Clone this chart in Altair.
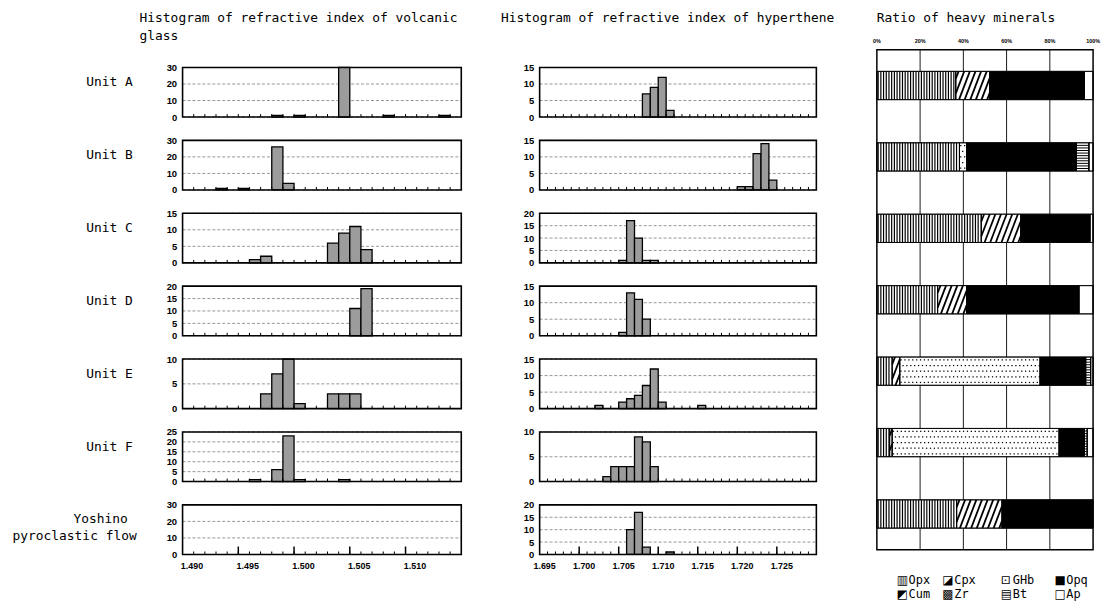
import altair as alt
import numpy as np
import pandas as pd

TXT = "DejaVu Sans Mono"
NUM = "Liberation Sans"

# ---------------- data ----------------
unit_names = ["Unit A", "Unit B", "Unit C", "Unit D", "Unit E", "Unit F", "Yoshino pyroclastic flow"]

# refractive index of volcanic glass (bin start value, count)
glass_ri_A = [1.498, 1.500, 1.504, 1.508, 1.513]
glass_n_A = [1, 1, 30, 1, 1]
glass_ri_B = [1.493, 1.495, 1.498, 1.499]
glass_n_B = [1, 1, 26, 4]
glass_ri_C = [1.496, 1.497, 1.503, 1.504, 1.505, 1.506]
glass_n_C = [1, 2, 6, 9, 11, 4]
glass_ri_D = [1.505, 1.506]
glass_n_D = [11, 19]
glass_ri_E = [1.497, 1.498, 1.499, 1.500, 1.503, 1.504, 1.505]
glass_n_E = [3, 7, 10, 1, 3, 3, 3]
glass_ri_F = [1.496, 1.498, 1.499, 1.500, 1.504]
glass_n_F = [1, 6, 23, 1, 1]
glass_ri_Y = []
glass_n_Y = []
glass_ymax = [30, 30, 15, 20, 10, 25, 30]
glass_ystep = [10, 10, 5, 5, 5, 5, 10]
glass_axis_labels = [1.490, 1.495, 1.500, 1.505, 1.510]

# refractive index of hypersthene
hyp_ri_A = [1.708, 1.709, 1.710, 1.711]
hyp_n_A = [7, 9, 12, 2]
hyp_ri_B = [1.720, 1.721, 1.722, 1.723, 1.724]
hyp_n_B = [1, 1, 11, 14, 3]
hyp_ri_C = [1.705, 1.706, 1.707, 1.708, 1.709]
hyp_n_C = [1, 17, 10, 1, 1]
hyp_ri_D = [1.705, 1.706, 1.707, 1.708]
hyp_n_D = [1, 13, 11, 5]
hyp_ri_E = [1.702, 1.705, 1.706, 1.707, 1.708, 1.709, 1.710, 1.715]
hyp_n_E = [1, 2, 3, 4, 7, 12, 2, 1]
hyp_ri_F = [1.703, 1.704, 1.705, 1.706, 1.707, 1.708, 1.709]
hyp_n_F = [1, 3, 3, 3, 9, 8, 3]
hyp_ri_Y = [1.706, 1.707, 1.708, 1.711]
hyp_n_Y = [10, 17, 3, 1]
hyp_ymax = [15, 15, 20, 15, 15, 10, 20]
hyp_ystep = [5, 5, 5, 5, 5, 5, 5]
hyp_axis_labels = [1.695, 1.700, 1.705, 1.710, 1.715, 1.720, 1.725]

# heavy minerals (% per unit, A..F, Yoshino)
mineral_names = ["Opx", "Cpx", "GHb", "Opq", "Cum", "Zr", "Bt", "Ap"]
pct_opx = [36.5, 38.2, 48.3, 28.1, 7.1, 5.9, 36.9]
pct_cpx = [15.7, 0.0, 18.3, 13.4, 3.5, 1.2, 21.0]
pct_ghb = [0.0, 3.3, 0.0, 0.0, 64.9, 77.2, 0.0]
pct_opq = [43.8, 50.8, 32.0, 52.0, 21.1, 11.7, 41.7]
pct_cum = [0.0, 0.0, 0.0, 0.0, 0.0, 0.0, 0.0]
pct_zr = [0.0, 0.0, 0.0, 0.0, 0.0, 0.0, 0.0]
pct_bt = [0.0, 5.8, 0.0, 0.0, 2.3, 1.3, 0.0]
pct_ap = [4.0, 1.9, 1.4, 6.5, 1.1, 2.7, 0.4]
pct_ticks = [0, 20, 40, 60, 80, 100]

glass_ri = [glass_ri_A, glass_ri_B, glass_ri_C, glass_ri_D, glass_ri_E, glass_ri_F, glass_ri_Y]
glass_n = [glass_n_A, glass_n_B, glass_n_C, glass_n_D, glass_n_E, glass_n_F, glass_n_Y]
hyp_ri = [hyp_ri_A, hyp_ri_B, hyp_ri_C, hyp_ri_D, hyp_ri_E, hyp_ri_F, hyp_ri_Y]
hyp_n = [hyp_n_A, hyp_n_B, hyp_n_C, hyp_n_D, hyp_n_E, hyp_n_F, hyp_n_Y]
pct_by_mineral = [pct_opx, pct_cpx, pct_ghb, pct_opq, pct_cum, pct_zr, pct_bt, pct_ap]

# ---------------- layout constants ----------------
PANEL_H = 50
GLASS_W = 281
HYP_W = 279
MIN_W = 218
TITLE_H = 33.5


def hist_panel(ri, n, ymax, ystep, lo, nbins, width, label_lines, bottom, major_vals, lab_off):
    hi = round(lo + nbins * 0.001, 3)
    xs = alt.Scale(domain=[lo, hi], nice=False, zero=False)
    ys = alt.Scale(domain=[0, ymax], nice=False, zero=True)
    yvals = list(range(0, ymax + 1, ystep))
    yaxis = alt.Axis(values=yvals, title=None, ticks=False, domain=False, grid=False,
                     labelPadding=6, labelFont=NUM, labelFontSize=9.5, labelFontWeight="bold",
                     labelColor="black", labelOverlap=False)
    if bottom:
        xaxis = alt.Axis(values=major_vals, format=".3f", title=None, ticks=False, domain=False,
                         grid=False, labelPadding=7, labelOffset=lab_off, labelFlush=False,
                         labelOverlap=False, labelFont=NUM, labelFontSize=9, labelFontWeight="bold",
                         labelColor="black")
    else:
        xaxis = None
    grid = alt.Chart(pd.DataFrame({"t": yvals})).mark_rule(
        color="#7a7a7a", strokeWidth=0.8, strokeDash=[3, 2]
    ).encode(y=alt.Y("t:Q", scale=ys, axis=yaxis), x=alt.value(0), x2=alt.value(width))
    layers = [grid]
    if len(ri):
        bdf = pd.DataFrame({"x0": ri, "n": n})
        bdf["x1"] = bdf["x0"] + 0.001
        bdf["z"] = 0
        bars = alt.Chart(bdf).mark_rect(fill="#9c9c9c", stroke="black", strokeWidth=1.3).encode(
            x=alt.X("x0:Q", scale=xs, axis=xaxis), x2=alt.X2("x1"),
            y=alt.Y("n:Q", scale=ys, axis=yaxis), y2=alt.Y2("z"))
        layers.append(bars)
    minor_df = pd.DataFrame({"b": [round(lo + 0.001 * k, 3) for k in range(1, nbins)]})
    minor = alt.Chart(minor_df).mark_rule(color="black", strokeWidth=1).encode(
        x=alt.X("b:Q", scale=xs, axis=xaxis), y=alt.value(PANEL_H), y2=alt.value(PANEL_H - 3))
    layers.append(minor)
    if bottom:
        major = alt.Chart(pd.DataFrame({"m": major_vals[1:]})).mark_rule(
            color="black", strokeWidth=1.5
        ).encode(x=alt.X("m:Q", scale=xs, axis=xaxis), y=alt.value(PANEL_H), y2=alt.value(PANEL_H - 8))
        layers.append(major)
    frame = alt.Chart(pd.DataFrame({"a": [lo], "b": [hi], "c": [0], "d": [ymax]})).mark_rect(
        fillOpacity=0, stroke="black", strokeWidth=1.6).encode(
        x=alt.X("a:Q", scale=xs, axis=xaxis), x2=alt.X2("b"),
        y=alt.Y("c:Q", scale=ys, axis=yaxis), y2=alt.Y2("d"))
    layers.append(frame)
    for txt, xr, yr in label_lines:
        layers.append(
            alt.Chart(pd.DataFrame({"s": [txt]})).mark_text(
                align="right", baseline="middle", font=TXT, fontSize=13, color="black"
            ).encode(text="s:N", x=alt.value(xr), y=alt.value(yr))
        )
    return alt.layer(*layers).properties(width=width, height=PANEL_H)


def title_chart(lines, xoff, width):
    df = pd.DataFrame({"s": ["\n".join(lines)]})
    return alt.Chart(df).mark_text(
        align="left", baseline="alphabetic", font=TXT, fontSize=13, color="black",
        lineBreak="\n", lineHeight=18.3
    ).encode(text="s:N", x=alt.value(xoff), y=alt.value(11.5)).properties(
        width=width, height=TITLE_H)


def blank():
    return alt.Chart(pd.DataFrame({"s": ["x"]})).mark_point(opacity=0).encode(
        x=alt.value(0), y=alt.value(0)).properties(width=1, height=1)


# ---------------- histogram panels ----------------
glass_panels, hyp_panels = [], []
for i in range(7):
    if i < 6:
        lines = [(unit_names[i], -50.3, 15)]
    else:
        lines = [("Yoshino", -55.3, 14), ("pyroclastic flow", -46.3, 31)]
    bottom = i == 6
    glass_panels.append(hist_panel(glass_ri[i], glass_n[i], glass_ymax[i], glass_ystep[i],
                                   1.490, 25, GLASS_W, lines, bottom, glass_axis_labels, 9))
    hyp_panels.append(hist_panel(hyp_ri[i], hyp_n[i], hyp_ymax[i], hyp_ystep[i],
                                 1.695, 35, HYP_W, [], bottom, hyp_axis_labels, 4.5))

glass_title = title_chart(["Histogram of refractive index of volcanic", "glass"], -43.3, 298.4)
hyp_title = title_chart(["Histogram of refractive index of hyperthene"], -39, HYP_W)

# ---------------- heavy minerals chart ----------------
BAR_LO, BAR_HI = 0.302, 0.698
mineral_fill = {"Opx": "white", "Cpx": "white", "GHb": "white", "Opq": "black",
                "Cum": "black", "Zr": "#bdbdbd", "Bt": "white", "Ap": "white"}
seg = []
for u in range(7):
    s = 0.0
    for m, arr in zip(mineral_names, pct_by_mineral):
        v = arr[u]
        if v > 0:
            seg.append({"u": u, "m": m, "s": s, "e": s + v, "y0": u + BAR_LO, "y1": u + BAR_HI})
        s += v
seg_df = pd.DataFrame(seg)

opx_rows, cpx_rows, ghb_rows, bt_rows = [], [], [], []
for r in seg:
    s, e, y0, y1 = r["s"], r["e"], r["y0"], r["y1"]
    if r["m"] == "Opx":
        x = s + 0.6
        while x < e - 0.3:
            opx_rows.append({"x": x, "y0": y0, "y1": y1})
            x += 1.25
    elif r["m"] == "Cpx":
        DX, SP = 5.0, 2.6
        x0 = s - DX + SP / 2
        while x0 < e:
            t0 = max(0.0, (s - x0) / DX)
            t1 = min(1.0, (e - x0) / DX)
            if t1 > t0:
                cpx_rows.append({"xa": x0 + DX * t0, "xb": x0 + DX * t1,
                                 "ya": y1 - (y1 - y0) * t0, "yb": y1 - (y1 - y0) * t1})
            x0 += SP
    elif r["m"] == "GHb":
        for k in range(5):
            yy = y0 + (k + 0.5) * (y1 - y0) / 5
            x = s + (0.6 if k % 2 == 0 else 1.5)
            while x < e - 0.3:
                ghb_rows.append({"x": x, "y": yy})
                x += 1.8
    elif r["m"] == "Bt":
        for k in range(1, 11):
            bt_rows.append({"s": s, "e": e, "y": y0 + k * (y1 - y0) / 11})

xm = alt.Scale(domain=[0, 100], nice=False, zero=False)
ym = alt.Scale(domain=[0, 7], range=[39.7, 543.7], nice=False, zero=False)

grid_df = pd.DataFrame({"p": pct_ticks[1:-1], "ya": 0, "yb": 7})
grid_m = alt.Chart(grid_df).mark_rule(color="black", strokeWidth=0.9).encode(
    x=alt.X("p:Q", scale=xm, axis=None), y=alt.Y("ya:Q", scale=ym, axis=None), y2=alt.Y2("yb"))
seg_fill = alt.Chart(seg_df).mark_rect(stroke="black", strokeWidth=0.8).encode(
    x=alt.X("s:Q", scale=xm, axis=None), x2=alt.X2("e"),
    y=alt.Y("y0:Q", scale=ym, axis=None), y2=alt.Y2("y1"),
    fill=alt.Fill("m:N", scale=alt.Scale(domain=mineral_names,
                                         range=[mineral_fill[m] for m in mineral_names]), legend=None))
opx_layer = alt.Chart(pd.DataFrame(opx_rows)).mark_rule(color="black", strokeWidth=1.2).encode(
    x=alt.X("x:Q", scale=xm, axis=None), y=alt.Y("y0:Q", scale=ym, axis=None), y2=alt.Y2("y1"))
cpx_layer = alt.Chart(pd.DataFrame(cpx_rows)).mark_rule(color="black", strokeWidth=1.8).encode(
    x=alt.X("xa:Q", scale=xm, axis=None), x2=alt.X2("xb"),
    y=alt.Y("ya:Q", scale=ym, axis=None), y2=alt.Y2("yb"))
ghb_layer = alt.Chart(pd.DataFrame(ghb_rows)).mark_square(size=1.6, color="black", opacity=1).encode(
    x=alt.X("x:Q", scale=xm, axis=None), y=alt.Y("y:Q", scale=ym, axis=None))
bt_layer = alt.Chart(pd.DataFrame(bt_rows)).mark_rule(color="black", strokeWidth=1).encode(
    x=alt.X("s:Q", scale=xm, axis=None), x2=alt.X2("e"), y=alt.Y("y:Q", scale=ym, axis=None))
seg_outline = alt.Chart(seg_df).mark_rect(fillOpacity=0, stroke="black", strokeWidth=0.9).encode(
    x=alt.X("s:Q", scale=xm, axis=None), x2=alt.X2("e"),
    y=alt.Y("y0:Q", scale=ym, axis=None), y2=alt.Y2("y1"))
border = alt.Chart(pd.DataFrame({"a": [0], "b": [100], "c": [0], "d": [7]})).mark_rect(
    fillOpacity=0, stroke="black", strokeWidth=1.5).encode(
    x=alt.X("a:Q", scale=xm, axis=None), x2=alt.X2("b"),
    y=alt.Y("c:Q", scale=ym, axis=None), y2=alt.Y2("d"))
pct_df = pd.DataFrame({"p": pct_ticks, "lab": [f"{v}%" for v in pct_ticks]})
pct_labels = alt.Chart(pct_df).mark_text(font=NUM, fontSize=5.5, fontWeight="bold", color="black",
                                         baseline="middle", align="center").encode(
    x=alt.X("p:Q", scale=xm, axis=None), y=alt.value(31), text="lab:N")
min_title = alt.Chart(pd.DataFrame({"s": ["Ratio of heavy minerals"]})).mark_text(
    align="left", baseline="alphabetic", font=TXT, fontSize=13, color="black").encode(
    text="s:N", x=alt.value(0), y=alt.value(11.5))

legend_glyph = {"Opx": "\u25a5", "Cpx": "\u25ea", "GHb": "\u22a1", "Opq": "\u25a0",
                "Cum": "\u25e9", "Zr": "\u25a9", "Bt": "\u25a4", "Ap": "\u25a1"}
leg_px = [20, 66, 125, 179]
leg_rows = []
for i, m in enumerate(mineral_names):
    row, col = i // 4, i % 4
    leg_rows.append({"m": m, "g": legend_glyph[m], "lx": leg_px[col] / MIN_W * 100,
                     "ly": 7 + (30.5 + 14 * row) / 72})
leg_df = pd.DataFrame(leg_rows)
leg_icons = alt.Chart(leg_df).mark_text(align="left", baseline="middle", font="DejaVu Sans",
                                        fontSize=12, color="black").encode(
    x=alt.X("lx:Q", scale=xm, axis=None), y=alt.Y("ly:Q", scale=ym, axis=None), text="g:N")
leg_text = alt.Chart(leg_df).mark_text(align="left", baseline="middle", font=TXT, fontSize=12,
                                       color="black", dx=12).encode(
    x=alt.X("lx:Q", scale=xm, axis=None), y=alt.Y("ly:Q", scale=ym, axis=None), text="m:N")

min_chart = alt.layer(grid_m, seg_fill, opx_layer, cpx_layer, ghb_layer, bt_layer, seg_outline,
                      border, pct_labels, min_title, leg_icons, leg_text).properties(
    width=MIN_W, height=TITLE_H)

# ---------------- assemble ----------------
cells = [glass_title, hyp_title, min_chart]
for i in range(7):
    cells += [glass_panels[i], hyp_panels[i], blank()]

chart = alt.concat(*cells, columns=3, spacing={"row": 23.5, "column": 61},
                   bounds="flush", align="each").properties(
    padding={"left": 4, "top": 0, "right": 2, "bottom": 2}
).configure_view(stroke="transparent", strokeWidth=0)

chart.save("out.html", embed_options={"renderer": "svg", "actions": False})
